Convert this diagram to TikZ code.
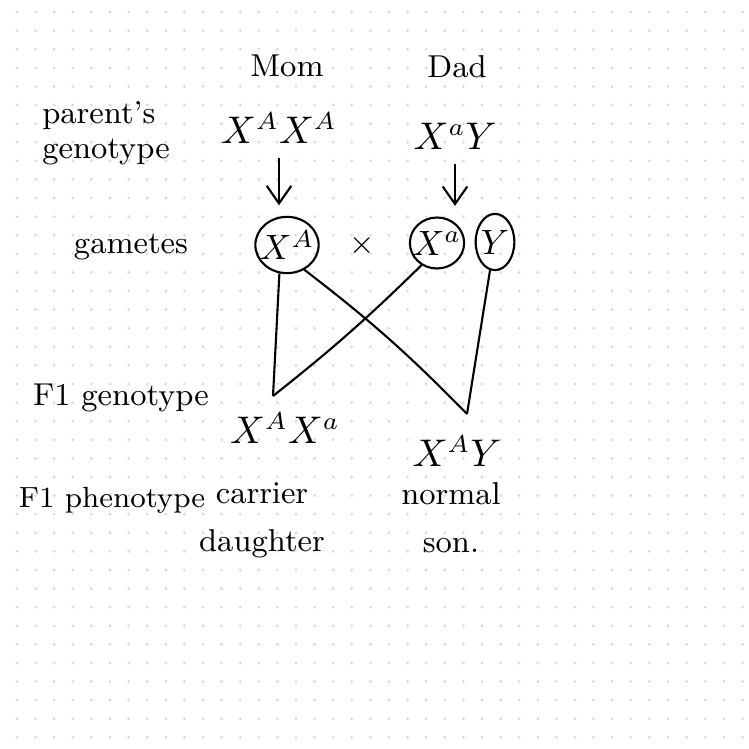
\documentclass[tikz,border=0pt]{standalone}
\usepackage{amsmath}
\usetikzlibrary{arrows.meta, positioning, shapes.geometric}

\tikzset{
  word/.style={font=\fontsize{9}{13.7}\selectfont, inner sep=1pt},
  geno/.style={font=\fontsize{10.5}{12}\selectfont, inner sep=1pt},
  gamete/.style={ellipse, draw, line width=0.6pt, inner sep=-1.5pt, font=\normalsize},
  link/.style={line width=0.6pt},
  down/.style={-{Straight Barb[length=5pt,width=7pt]}, line width=0.6pt},
}

\begin{document}
\begin{tikzpicture}[x=0.01cm, y=-0.01cm]
  \useasboundingbox (0,0) rectangle (748,749);
  % dotted paper
  \foreach \i in {0,...,39} {
    \foreach \j in {0,...,39} {
      \fill[black!14] ({17+18.6*\i}, {12+18.6*\j}) circle (0.45pt);
    }
  }
  % parents
  \node[word] (mom) at (287,66) {Mom};
  \node[word] (dad) at (457,67) {Dad};
  \node[word, align=left, font=\fontsize{9}{10}\selectfont] (pglbl) at (106,133) {parent's\\genotype};
  \node[geno] (momgeno) at (279,128) {$X^A X^A$};
  \node[geno] (dadgeno) at (455,136) {$X^a Y$};
  % gametes
  \node[word] (gamlbl) at (131,247) {gametes};
  \node[gamete, minimum width=18pt, minimum height=16pt] (gXA) at (287,245) {$X^A$};
  \node[word] (cross) at (362,246) {$\times$};
  \node[gamete, minimum width=11.5pt, minimum height=14.5pt] (gXa) at (437,243) {$X^a$};
  \node[gamete, minimum width=11pt, minimum height=16pt] (gY) at (495,242) {$Y$};
  \draw[down, shorten <=3pt, shorten >=3pt] (momgeno.south) -- (momgeno.south |- gXA.north);
  \draw[down, shorten <=3pt, shorten >=3pt] (dadgeno.south) -- (dadgeno.south |- gXa.north);
  % offspring
  \coordinate (djoin) at (273,396);
  \coordinate (sjoin) at (467,414);
  \draw[link] (gXA.-105) -- (djoin);
  \draw[link] (gXa.-125) to[bend left=3] (djoin);
  \draw[link] (gXA.-55) to[bend left=4] (sjoin);
  \draw[link] (gY.-100) -- (sjoin);
  \node[word] (f1glbl) at (121,398) {F1 genotype};
  \node[geno] (dau) at (285,428) {$X^A X^a$};
  \node[geno] (son) at (457,451) {$X^A Y$};
  \node[word, font=\fontsize{8.3}{10}\selectfont] (f1plbl) at (112,500) {F1 phenotype};
  \node[word, align=center] (dauphen) at (262,520) {carrier\\daughter};
  \node[word, align=center] (sonphen) at (451,518) {normal\\son.};
\end{tikzpicture}
\end{document}
